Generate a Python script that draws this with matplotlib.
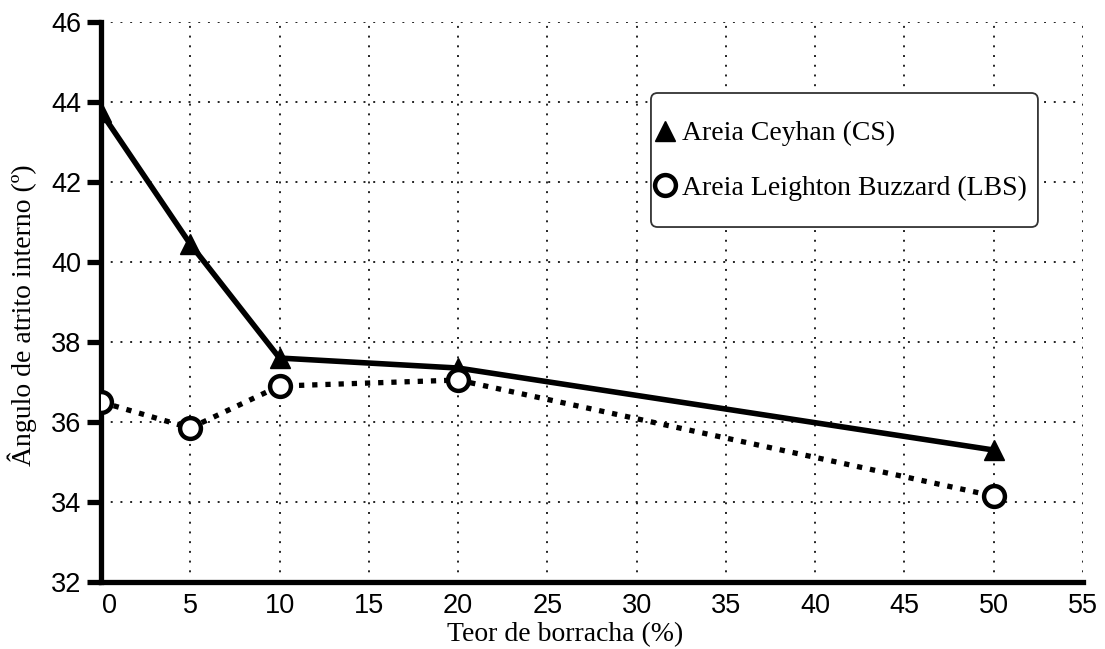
import matplotlib.pyplot as plt
from matplotlib.patches import FancyBboxPatch
from matplotlib.transforms import ScaledTranslation

# dados
teor = [0, 5, 10, 20, 50]
cs = [43.75, 40.45, 37.6, 37.35, 35.3]
lbs = [36.5, 35.85, 36.9, 37.05, 34.15]

x_ticks = list(range(0, 56, 5))
y_ticks = list(range(32, 47, 2))

fig = plt.figure(figsize=(11.05, 6.49), dpi=100)
ax = fig.add_axes([0.0914, 0.1032, 0.8886, 0.8628])

ax.plot(teor, cs, color='black', lw=4, marker='^', ms=14,
        markerfacecolor='black', markeredgecolor='black', solid_joinstyle='miter',
        label='Areia Ceyhan (CS)', zorder=3)
ax.plot(teor, lbs, color='black', lw=3.8, ls=(0, (1, 1.5)), marker='o', ms=15,
        markerfacecolor='white', markeredgecolor='black', markeredgewidth=3.2,
        label='Areia Leighton Buzzard (LBS)', zorder=4)

ax.set_xlim(0, 55)
ax.set_ylim(32, 46)
ax.set_xticks(x_ticks)
ax.set_yticks(y_ticks)
ax.grid(True, ls=(0, (1, 4)), color='#222222', lw=1.4)

for s in ['top', 'right']:
    ax.spines[s].set_visible(False)
for s in ['left', 'bottom']:
    ax.spines[s].set_linewidth(3.8)

ax.tick_params(axis='y', direction='out', length=10, width=3.8, pad=4,
               labelsize=19.5, labelfontfamily='Liberation Sans')
ax.tick_params(axis='x', length=0, pad=8, labelsize=19.5,
               labelfontfamily='Liberation Sans')

# o rótulo "0" aparece um pouco à direita do eixo no original
lab0 = ax.xaxis.get_major_ticks()[0].label1
lab0.set_transform(lab0.get_transform() + ScaledTranslation(0.09, 0, fig.dpi_scale_trans))

ax.set_xlabel('Teor de borracha (%)', fontsize=20, family='Liberation Serif', labelpad=2)
ax.xaxis.label.set_x(0.4725)
ax.set_ylabel('Ângulo de atrito interno (º)', fontsize=20, family='Liberation Serif', labelpad=10)
ax.yaxis.label.set_y(0.477)

# caixa da legenda desenhada à parte (padding diferente na horizontal/vertical)
caixa = FancyBboxPatch((0.5891, 0.6502), 0.3502, 0.2065, transform=fig.transFigure,
                       boxstyle='round,pad=0,rounding_size=0.006', mutation_aspect=1.7,
                       facecolor='white', edgecolor='#333333', lw=1.3, zorder=5)
fig.patches.append(caixa)

leg = ax.legend(loc='upper left', bbox_to_anchor=(0.5946, 0.8136), bbox_transform=fig.transFigure,
                prop={'family': 'Liberation Serif', 'size': 20}, frameon=False,
                handlelength=0.6, handletextpad=0.3, borderpad=0, labelspacing=1.05,
                borderaxespad=0)
for h in leg.get_lines():
    h.set_linestyle('none')
leg.set_zorder(10)
leg.remove()
fig.legends.append(leg)

fig.savefig('out.png', dpi=100)
